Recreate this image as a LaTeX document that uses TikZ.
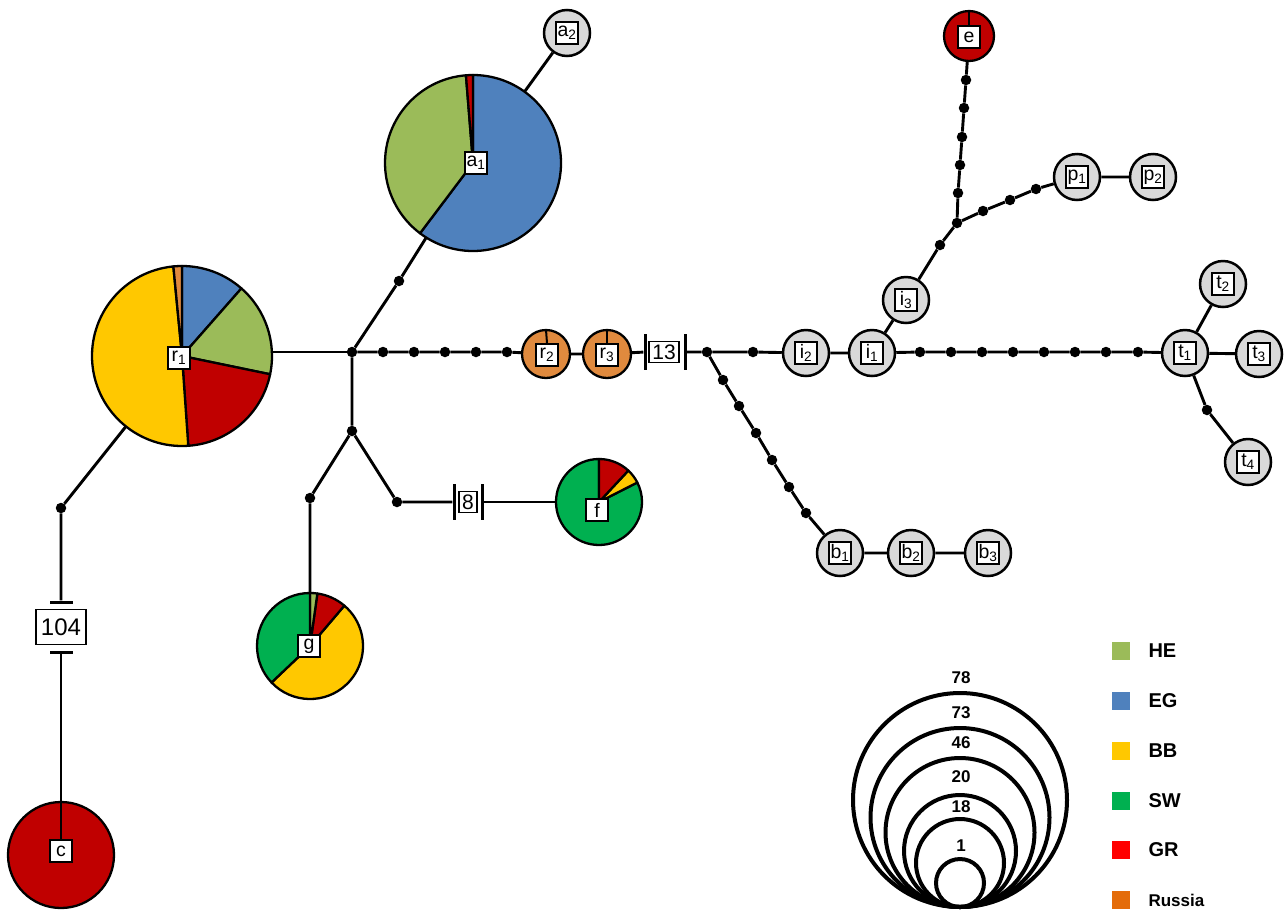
\documentclass[tikz,border=0pt]{standalone}
\usepackage{fontspec}
\setmainfont{Liberation Sans}
\usetikzlibrary{backgrounds}
\definecolor{cHE}{HTML}{9BBB59}
\definecolor{cEG}{HTML}{4F81BD}
\definecolor{cBB}{HTML}{FFC800}
\definecolor{cSW}{HTML}{00B050}
\definecolor{cGRp}{HTML}{C00000}
\definecolor{cGR}{HTML}{FF0000}
\definecolor{cRUp}{HTML}{E08A3E}
\definecolor{cRU}{HTML}{E46C0A}
\definecolor{cnode}{HTML}{D9D9D9}
\newcommand{\pieslice}[5]{%
  \filldraw[fill=#5, draw=black, line width=2.3pt, line join=round]
    (#1.center) -- ++(#3:#2) arc[start angle=#3, end angle=#4, radius=#2] -- cycle;}
\tikzset{
  edge/.style={line width=2.9pt},
  dotn/.style={circle, fill=black, minimum size=10.5pt, inner sep=0pt},
  gnode/.style={circle, draw=black, line width=2.5pt, fill=cnode, minimum size=46pt, inner sep=0pt},
  pienode/.style={circle, inner sep=0pt, minimum size=#1},
  lbl/.style={draw=black, fill=white, line width=1.8pt, inner sep=1.5pt, minimum size=22pt,
    font=\fontsize{19.5}{21}\selectfont},
  vbar/.style={rectangle, fill=black, inner sep=0pt, minimum width=3pt, minimum height=36pt},
  hbar/.style={rectangle, fill=black, inner sep=0pt, minimum width=23pt, minimum height=3pt},
  numbox/.style={draw=black, fill=white, line width=1.8pt, inner sep=3pt},
  legsq/.style={rectangle, inner sep=0pt, minimum size=18pt},
  legtxt/.style={anchor=west, font=\fontsize{20}{22}\selectfont\bfseries},
  sizec/.style={circle, draw=black, line width=4pt, inner sep=0pt, minimum size=#1},
  sizetxt/.style={font=\fontsize{17}{19}\selectfont\bfseries},
}
\begin{document}
\begin{tikzpicture}[x=1pt,y=1pt]
\useasboundingbox (0,0) rectangle (1284,-911);

% ---------- junctions and dots ----------
\node[dotn] (J1) at (352,-352) {};
\node[dotn] (m1) at (383,-352) {};
\node[dotn] (m2) at (414,-352) {};
\node[dotn] (m3) at (445,-352) {};
\node[dotn] (m4) at (476,-352) {};
\node[dotn] (m5) at (507,-352) {};
\node[dotn] (J2) at (707,-352) {};
\node[dotn] (m6) at (753,-352) {};
\foreach \i/\x in {1/920,2/951,3/982,4/1013,5/1044,6/1075,7/1106,8/1138}
  \node[dotn] (n\i) at (\x,-352) {};
\node[dotn] (m9) at (1207,-410) {};
\node[dotn] (m10) at (940,-245) {};
\node[dotn] (J3) at (957,-223) {};
\node[dotn] (e1) at (958,-193) {};
\node[dotn] (e2) at (960,-165) {};
\node[dotn] (e3) at (962,-137) {};
\node[dotn] (e4) at (964,-108) {};
\node[dotn] (e5) at (966,-80) {};
\node[dotn] (pa) at (983,-211) {};
\node[dotn] (pb) at (1010,-200) {};
\node[dotn] (pc) at (1036,-189) {};
\node[dotn] (bd1) at (723,-380) {};
\node[dotn] (bd2) at (739,-406) {};
\node[dotn] (bd3) at (756,-433) {};
\node[dotn] (bd4) at (772,-460) {};
\node[dotn] (bd5) at (789,-487) {};
\node[dotn] (bd6) at (806,-513) {};
\node[dotn] (ad) at (399,-281) {};
\node[dotn] (J4) at (352,-431) {};
\node[dotn] (gd) at (310,-498) {};
\node[dotn] (fd) at (397,-502) {};
\node[dotn] (cd) at (61,-508) {};

% ---------- mutation count markers ----------
\node[vbar] (b13a) at (645,-352) {};
\node[vbar] (b13b) at (685,-352) {};
\node[numbox, font=\fontsize{21}{23}\selectfont] (m13) at (664,-352) {13};
\node[vbar] (b8a) at (454,-502) {};
\node[vbar] (b8b) at (482,-502) {};
\node[numbox, font=\fontsize{21}{23}\selectfont] (m8) at (468,-502) {8};
\node[hbar] (b104a) at (61,-602) {};
\node[hbar] (b104b) at (61,-652) {};
\node[numbox, inner sep=4pt, minimum width=50pt, minimum height=35pt, font=\fontsize{24}{26}\selectfont] (m104) at (61,-627) {104};

% ---------- grey haplotype circles ----------
\node[gnode] (a2) at (567,-33) {};
\node[gnode] (p1) at (1077,-177) {};
\node[gnode] (p2) at (1153,-177) {};
\node[gnode] (i3) at (906,-300) {};
\node[gnode] (i2) at (806,-353) {};
\node[gnode] (i1) at (872,-353) {};
\node[gnode] (t1) at (1185,-353) {};
\node[gnode] (t2) at (1223,-284) {};
\node[gnode] (t3) at (1259,-354) {};
\node[gnode] (t4) at (1248,-462) {};
\node[gnode] (b1) at (840,-553) {};
\node[gnode] (b2) at (911,-553) {};
\node[gnode] (b3) at (988,-553) {};

% ---------- pie nodes ----------
\node[pienode=180pt] (r1) at (182,-356) {};
\node[pienode=176pt] (a1) at (473,-163) {};
\node[pienode=106pt] (g) at (310,-646) {};
\node[pienode=86pt] (f) at (599,-502) {};
\node[pienode=106pt] (c) at (61,-855) {};
\node[pienode=50pt] (e) at (969,-36) {};
\node[pienode=48pt] (r2) at (546,-354) {};
\node[pienode=48pt] (r3) at (607,-354) {};

% ---------- connectors (behind) ----------
\begin{scope}[on background layer]
\draw[edge] (J1) -- (J1 -| r1);
\draw[edge] (J1) -- (m1) -- (m2) -- (m3) -- (m4) -- (m5) -- (r2) -- (r3) -- (b13a);
\draw[edge] (b13b) -- (J2) -- (m6) -- (i2) -- (i1) -- (n1) -- (n2) -- (n3) -- (n4) -- (n5) -- (n6) -- (n7) -- (n8) -- (t1);
\draw[edge] (t1) -- (t2);
\draw[edge] (t1) -- (t3);
\draw[edge] (t1) -- (m9) -- (t4);
\draw[edge] (i1) -- (i3) -- (m10) -- (J3);
\draw[edge] (J3) -- (e1) -- (e2) -- (e3) -- (e4) -- (e5) -- (e);
\draw[edge] (J3) -- (pa) -- (pb) -- (pc) -- (p1) -- (p2);
\draw[edge] (J2) -- (bd1) -- (bd2) -- (bd3) -- (bd4) -- (bd5) -- (bd6) -- (b1) -- (b2) -- (b3);
\draw[edge] (J1) -- (ad) -- (a1);
\draw[edge] (a1) -- (a2);
\draw[edge] (J1) -- (J4) -- (gd) -- (g);
\draw[edge] (J4) -- (fd) -- (b8a);
\draw[edge] (b8b) -- (f);
\draw[edge] (r1) -- (cd) -- (b104a);
\draw[edge] (b104b) -- (c);
\end{scope}

% ---------- pies ----------
% r1
\pieslice{r1}{90}{48.7}{90}{cEG}
\pieslice{r1}{90}{-11.7}{48.7}{cHE}
\pieslice{r1}{90}{-86}{-11.7}{cGRp}
\pieslice{r1}{90}{95.5}{274}{cBB}
\pieslice{r1}{90}{90}{95.5}{cRUp}
% a1
\pieslice{a1}{88}{233}{450}{cEG}
\pieslice{a1}{88}{94.6}{233}{cHE}
\pieslice{a1}{88}{90}{94.6}{cGRp}
% g
\pieslice{g}{53}{-136.5}{49.6}{cBB}
\pieslice{g}{53}{49.6}{82}{cGRp}
\pieslice{g}{53}{82}{90}{cHE}
\pieslice{g}{53}{90}{223.5}{cSW}
% f
\pieslice{f}{43}{90}{387}{cSW}
\pieslice{f}{43}{27}{47}{cBB}
\pieslice{f}{43}{47}{90}{cGRp}
% single-colour pies
\filldraw[fill=cGRp, draw=black, line width=2.3pt] (c) circle[radius=53];
\filldraw[fill=cGRp, draw=black, line width=2.3pt] (e) circle[radius=25];
\filldraw[fill=cRUp, draw=black, line width=2.3pt] (r2) circle[radius=24];
\filldraw[fill=cRUp, draw=black, line width=2.3pt] (r3) circle[radius=24];

% ---------- labels ----------
\node[lbl] (r1l) at (179,-358) {r\textsubscript{1}};
\node[lbl] (a1l) at (476,-163) {a\textsubscript{1}};
\node[lbl] (gl) at (309,-646) {g};
\node[lbl] (fl) at (597,-510) {f};
\node[lbl] (cl) at (61,-851) {c};
\node[lbl] (el) at (969,-37) {e};
\node[lbl] (r2l) at (547,-355) {r\textsubscript{2}};
\node[lbl] (r3l) at (607,-355) {r\textsubscript{3}};
\draw[line width=2.5pt] (c.north) -- (cl.north);
\draw[line width=2pt] (e.north) -- (el.north);
\draw[line width=2pt] (r2.north) -- (r2l.north);
\draw[line width=2pt] (r3.north) -- (r3l.north);
\node[lbl] (a2l) at (a2) {a\textsubscript{2}};
\node[lbl] (p1l) at (p1) {p\textsubscript{1}};
\node[lbl] (p2l) at (p2) {p\textsubscript{2}};
\node[lbl] (i3l) at (i3) {i\textsubscript{3}};
\node[lbl] (i2l) at (i2) {i\textsubscript{2}};
\node[lbl] (i1l) at (i1) {i\textsubscript{1}};
\node[lbl] (t1l) at (t1) {t\textsubscript{1}};
\node[lbl] (t2l) at (t2) {t\textsubscript{2}};
\node[lbl] (t3l) at (t3) {t\textsubscript{3}};
\node[lbl] (t4l) at (t4) {t\textsubscript{4}};
\node[lbl] (b1l) at (b1) {b\textsubscript{1}};
\node[lbl] (b2l) at (b2) {b\textsubscript{2}};
\node[lbl] (b3l) at (b3) {b\textsubscript{3}};

% ---------- size legend ----------
\node[sizec=214pt] (s78) at (960,-800) {};
\node[sizec=179pt] (s73) at (960,-817.5) {};
\node[sizec=149pt] (s46) at (960,-832.5) {};
\node[sizec=112pt] (s20) at (960,-851) {};
\node[sizec=88pt] (s18) at (960,-863) {};
\node[sizec=48pt] (s1) at (960,-883) {};
\node[sizetxt] (t78) at (961,-678) {78};
\node[sizetxt] (t73) at (961,-713) {73};
\node[sizetxt] (t46) at (961,-743) {46};
\node[sizetxt] (t20) at (961,-777) {20};
\node[sizetxt] (t18) at (961,-807) {18};
\node[sizetxt] (t1n) at (961,-846) {1};

% ---------- colour legend ----------
\node[legsq, fill=cHE] (qHE) at (1121,-651) {};
\node[legsq, fill=cEG] (qEG) at (1121,-701) {};
\node[legsq, fill=cBB] (qBB) at (1121,-751) {};
\node[legsq, fill=cSW] (qSW) at (1121,-801) {};
\node[legsq, fill=cGR] (qGR) at (1121,-850) {};
\node[legsq, fill=cRU] (qRU) at (1121,-900) {};
\node[legtxt] (lHE) at (1145,-651) {HE};
\node[legtxt] (lEG) at (1145,-701) {EG};
\node[legtxt] (lBB) at (1145,-751) {BB};
\node[legtxt] (lSW) at (1145,-801) {SW};
\node[legtxt] (lGR) at (1145,-850) {GR};
\node[legtxt, font=\fontsize{17}{19}\selectfont\bfseries] (lRU) at (1145,-900) {Russia};
\end{tikzpicture}
\end{document}
